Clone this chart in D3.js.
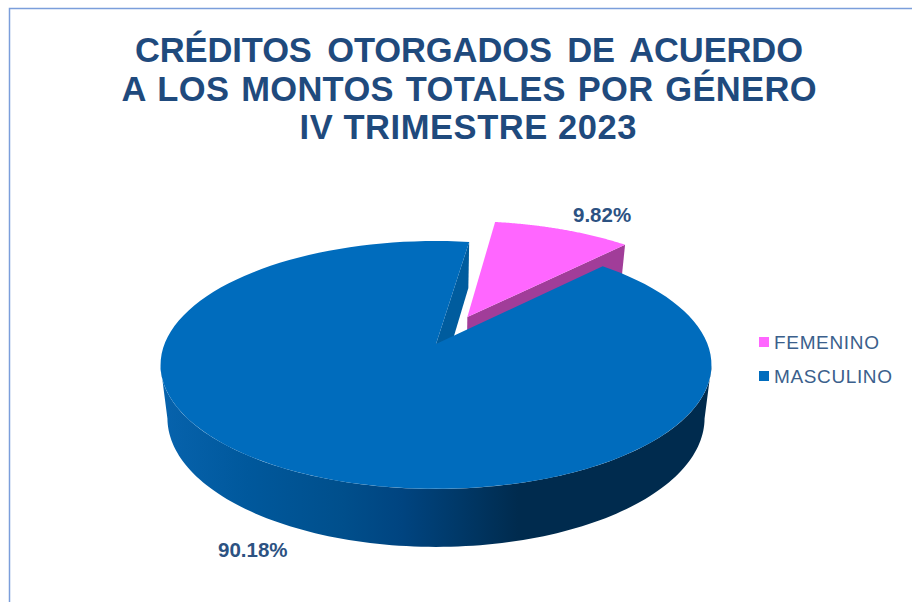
<!DOCTYPE html>
<html lang="es">
<head>
    <meta charset="UTF-8">
    <title>Créditos otorgados por género</title>
    <script src="https://d3js.org/d3.v7.min.js"></script>
    <style>
        html, body { margin: 0; padding: 0; background: #fff; }
        svg { display: block; }
        text { font-family: "Liberation Sans", Arial, sans-serif; }
        .title { font-size: 34.5px; font-weight: bold; fill: #1f4a7d; text-anchor: middle; }
        .pct { font-size: 20.5px; font-weight: bold; fill: #2c5282; }
        .legend { font-size: 19px; fill: #3b5f8c; }
    </style>
</head>
<body>
    <svg width="912" height="602"></svg>
    <script>
        const categories = ["FEMENINO", "MASCULINO"];
        const values = [9.82, 90.18];
        const valueLabels = ["9.82%", "90.18%"];
        const titleLines = ["CRÉDITOS OTORGADOS DE ACUERDO", "A LOS MONTOS TOTALES POR GÉNERO", "IV TRIMESTRE 2023"];

        const svg = d3.select("svg");
        const color = d3.scaleOrdinal().domain(categories).range(["#ff66ff", "#006cbd"]);

        // marco
        svg.append("path").attr("d", "M9.5,602V8.5H912").attr("fill", "none").attr("stroke", "#7b9edb").attr("stroke-width", 1.5);

        svg.selectAll(".title").data(titleLines).enter().append("text")
            .attr("class", "title")
            .attr("x", (d, i) => [469, 469, 468][i])
            .attr("y", (d, i) => 62 + i * 38.5)
            .attr("word-spacing", (d, i) => [6, 2, 0][i])
            .attr("textLength", (d, i) => [668, 695, 337][i])
            .text(d => d);

        // perspectiva: el circulo unitario pasa a una elipse con el centro corrido hacia arriba
        const cx = 436, cy = 344, sx = 271.5, sy = 120.4, k = 0.169;
        const project = (u, v, z) => {
            const w = 1 - k * v;
            return [cx + (1 - 0.025 * z) * sx * u / w, cy + sy * v / w + z * (52 + 6 * v)];
        };

        const pie = d3.pie().sort(null).value(d => d)
            .startAngle(8.2 * Math.PI / 180)
            .endAngle((360 + 8.2) * Math.PI / 180);
        const arcs = pie(values);
        const line = d3.line();

        const rimPoints = (a0, a1, ox, oy, z) => d3.range(0, 121).map(i => {
            const a = a0 + (a1 - a0) * i / 120;
            return project(Math.sin(a) + ox, -Math.cos(a) + oy, z);
        });

        const defs = svg.append("defs");
        const side = defs.append("linearGradient").attr("id", "sideMain")
            .attr("gradientUnits", "userSpaceOnUse")
            .attr("x1", 160).attr("x2", 711).attr("y1", 0).attr("y2", 0);
        [[0, "#0763ad"], [0.16, "#00589c"], [0.33, "#004f8c"], [0.44, "#004480"], [0.53, "#003a6b"],
         [0.65, "#002b4e"], [1, "#002b4e"]].forEach(s => {
            side.append("stop").attr("offset", s[0]).attr("stop-color", s[1]);
        });

        // desplazamiento de la porcion separada
        const fem = arcs[0], mas = arcs[1];
        const mid = (fem.startAngle + fem.endAngle) / 2;
        const ox = 0.259 * Math.sin(mid) + 0.007, oy = -0.259 * Math.cos(mid);

        // pared de la porcion femenina
        const femTop = rimPoints(fem.startAngle, fem.endAngle, ox, oy, 0);
        const femCenter = project(ox, oy, 0);
        const femEnd = femTop[femTop.length - 1];
        const femEndLow = project(Math.sin(fem.endAngle) + ox, -Math.cos(fem.endAngle) + oy, 1);
        const femCenterLow = project(ox, oy, 1);
        svg.append("path").attr("d", line([femCenter, femEnd, femEndLow, femCenterLow]) + "Z").attr("fill", "#a13d99");
        svg.append("path").attr("d", line([femCenter].concat(femTop)) + "Z").attr("fill", color(categories[0]));

        // pared interior del corte
        const center = project(0, 0, 0);
        const centerLow = project(0, 0, 1);
        const cutTop = project(Math.sin(mas.endAngle), -Math.cos(mas.endAngle), 0);
        const cutLow = project(Math.sin(mas.endAngle), -Math.cos(mas.endAngle), 1);
        svg.append("path").attr("d", line([center, cutTop, cutLow, centerLow]) + "Z").attr("fill", "#005c9e");

        // costado visible, entre los dos extremos laterales de la elipse
        const sideA0 = 100 * Math.PI / 180, sideA1 = 260 * Math.PI / 180;
        const sideTop = rimPoints(sideA0, sideA1, 0, 0, 0);
        const sideLow = rimPoints(sideA0, sideA1, 0, 0, 1).reverse();
        svg.append("path").attr("d", line(sideTop.concat(sideLow)) + "Z").attr("fill", "url(#sideMain)");

        // cara superior
        svg.append("path").attr("d", line([center].concat(rimPoints(mas.startAngle, mas.endAngle, 0, 0, 0))) + "Z")
            .attr("fill", color(categories[1]));

        // etiquetas
        svg.selectAll(".pct").data(valueLabels).enter().append("text")
            .attr("class", "pct")
            .attr("x", (d, i) => [573, 218][i])
            .attr("y", (d, i) => [222, 557][i])
            .text(d => d);

        // leyenda
        const legend = svg.selectAll(".leg").data(categories).enter().append("g")
            .attr("class", "leg")
            .attr("transform", (d, i) => `translate(759,${342 + i * 34})`);
        legend.append("rect").attr("x", 0).attr("y", -5).attr("width", 10).attr("height", 10).attr("fill", d => color(d));
        legend.append("text").attr("class", "legend").attr("x", 15).attr("y", 6.5)
            .attr("textLength", (d, i) => [105, 118][i])
            .text(d => d);
    </script>
</body>
</html>
